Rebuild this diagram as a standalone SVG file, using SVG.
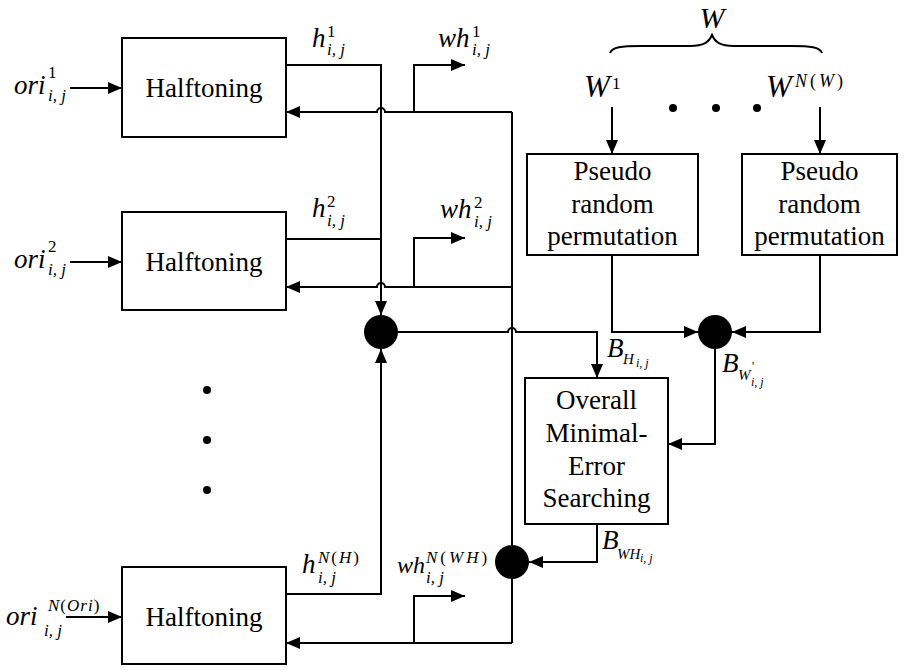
<svg xmlns="http://www.w3.org/2000/svg" width="907" height="670" viewBox="0 0 907 670" font-family="'Liberation Serif', 'DejaVu Serif', serif">
<defs>
<marker id="ah" markerWidth="14" markerHeight="12" refX="14" refY="6" orient="auto" markerUnits="userSpaceOnUse">
<path d="M0,0 L14,6 L0,12 z" fill="#000"/>
</marker>
<style>
text{font-family:'Liberation Serif','DejaVu Serif',serif}
.box{fill:#fff;stroke:#000;stroke-width:2}
.lbl{font-size:27px;fill:#000;text-anchor:middle}
.it{font-style:italic;fill:#000}
.m{font-size:27px}
.s{font-size:17px}
.ss{font-size:12px}
.up{font-style:normal}
.c{fill:none;stroke:#000;stroke-width:2}
.a{marker-end:url(#ah)}
.dot{fill:#000}
</style>
</defs>
<rect width="907" height="670" fill="#fff"/>

<g id="connectors">
<path class="c a" d="M70,88 H122"/>
<path class="c a" d="M70,262 H122"/>
<path class="c a" d="M66,617 H122"/>
<path class="c a" d="M286,65 H381 V315"/>
<path class="c" d="M286,239 H381"/>
<path class="c a" d="M286,594 H381 V349"/>
<path class="c a" d="M512,112 H385 a4,4 0 0 0 -8,0 H286"/>
<path class="c a" d="M414,112 V65 H465"/>
<path class="c" d="M512,112 V643"/>
<path class="c a" d="M512,287 H385 a4,4 0 0 0 -8,0 H286"/>
<path class="c a" d="M414,287 V238 H465"/>
<path class="c a" d="M512,643 H286"/>
<path class="c a" d="M414,643 V596 H465"/>
<path class="c a" d="M398,332 H508 a4,4 0 0 1 8,0 H597 V378"/>
<path class="c a" d="M612,107 V154"/>
<path class="c a" d="M820,107 V154"/>
<path class="c a" d="M612,255 V332 H698"/>
<path class="c a" d="M820,255 V332 H732"/>
<path class="c a" d="M715,349 V444 H668"/>
<path class="c a" d="M597,524 V562 H529"/>
</g>

<g id="halftoning1">
<rect class="box" x="122" y="38" width="164" height="99"/>
<text class="lbl" x="204" y="97">Halftoning</text>
</g>
<g id="halftoning2">
<rect class="box" x="122" y="212" width="164" height="98"/>
<text class="lbl" x="204" y="271">Halftoning</text>
</g>
<g id="halftoning3">
<rect class="box" x="122" y="567" width="164" height="97"/>
<text class="lbl" x="204" y="626">Halftoning</text>
</g>
<g id="prp1">
<rect class="box" x="527" y="154" width="171" height="101"/>
<text class="lbl" x="612.5" y="180">Pseudo</text>
<text class="lbl" x="612.5" y="213">random</text>
<text class="lbl" x="612.5" y="245">permutation</text>
</g>
<g id="prp2">
<rect class="box" x="742" y="154" width="155" height="101"/>
<text class="lbl" x="819.5" y="180">Pseudo</text>
<text class="lbl" x="819.5" y="213">random</text>
<text class="lbl" x="819.5" y="245">permutation</text>
</g>
<g id="overall">
<rect class="box" x="525" y="378" width="143" height="146"/>
<text class="lbl" x="596.5" y="409">Overall</text>
<text class="lbl" x="596.5" y="442">Minimal-</text>
<text class="lbl" x="596.5" y="475">Error</text>
<text class="lbl" x="596.5" y="507">Searching</text>
</g>
<g id="junction1"><circle cx="381" cy="332" r="17" fill="#000"/></g>
<g id="junction2"><circle cx="715" cy="332" r="17" fill="#000"/></g>
<g id="junction3"><circle cx="512" cy="562" r="17" fill="#000"/></g>

<g id="labels">
<text class="it"><tspan class="m" x="14" y="94">ori</tspan><tspan class="s up" x="48" y="78">1</tspan><tspan class="s" x="48" y="101">i, j</tspan></text>
<text class="it"><tspan class="m" x="14" y="268">ori</tspan><tspan class="s up" x="48" y="252">2</tspan><tspan class="s" x="48" y="275">i, j</tspan></text>
<text class="it"><tspan class="m" x="6" y="625">ori</tspan><tspan class="s" x="48" y="611" letter-spacing="1">N<tspan class="up">(</tspan>Ori<tspan class="up">)</tspan></tspan><tspan class="s" x="44" y="636">i, j</tspan></text>

<text class="it"><tspan class="m" x="312" y="47">h</tspan><tspan class="s up" x="327" y="37">1</tspan><tspan class="s" x="327" y="55">i, j</tspan></text>
<text class="it"><tspan class="m" x="438" y="47">wh</tspan><tspan class="s up" x="472" y="37">1</tspan><tspan class="s" x="472" y="55">i, j</tspan></text>
<text class="it"><tspan class="m" x="312" y="217">h</tspan><tspan class="s up" x="327" y="207">2</tspan><tspan class="s" x="327" y="226">i, j</tspan></text>
<text class="it"><tspan class="m" x="440" y="218">wh</tspan><tspan class="s up" x="474" y="208">2</tspan><tspan class="s" x="474" y="227">i, j</tspan></text>
<text class="it"><tspan class="m" x="302" y="573">h</tspan><tspan class="s" x="318" y="563" letter-spacing="2">N<tspan class="up">(</tspan>H<tspan class="up">)</tspan></tspan><tspan class="s" x="318" y="583">i, j</tspan></text>
<text class="it"><tspan class="m" style="font-size:24px" x="397" y="573">wh</tspan><tspan class="s" x="426" y="563" letter-spacing="3">N<tspan class="up">(</tspan>WH<tspan class="up">)</tspan></tspan><tspan class="s" x="426" y="583">i, j</tspan></text>

<text class="it"><tspan class="m" x="607" y="357">B</tspan><tspan style="font-size:15px" x="623" y="364">H</tspan><tspan class="ss" x="636" y="367">i, j</tspan></text>
<text class="it"><tspan class="m" x="722" y="372">B</tspan><tspan style="font-size:15px" x="738" y="380">W</tspan><tspan class="ss up" x="752" y="370">'</tspan><tspan class="ss" x="751" y="386">i, j</tspan></text>
<text class="it"><tspan class="m" x="602" y="549">B</tspan><tspan style="font-size:15px" x="617" y="559">WH</tspan><tspan class="ss" x="640" y="562">i, j</tspan></text>

<text class="it" style="font-size:30px" x="712" y="28" text-anchor="middle">W</text>
<text class="it"><tspan class="m" style="font-size:31px" x="584" y="97">W</tspan><tspan class="s up" x="612" y="89">1</tspan></text>
<text class="it"><tspan class="m" style="font-size:31px" x="766" y="97">W</tspan><tspan style="font-size:18px" x="795" y="87" letter-spacing="3">N<tspan class="up">(</tspan>W<tspan class="up">)</tspan></tspan></text>
</g>

<g id="brace">
<path class="c" d="M610,53 C612,47 622,46 640,46 L690,46 C704,46 709,42 712,35 C715,42 720,46 734,46 L792,46 C810,46 820,47 822,53"/>
</g>

<g id="ellipses">
<circle class="dot" cx="673" cy="108" r="4"/>
<circle class="dot" cx="716" cy="108" r="4"/>
<circle class="dot" cx="757" cy="108" r="4"/>
<circle class="dot" cx="207" cy="390" r="4"/>
<circle class="dot" cx="207" cy="440" r="4"/>
<circle class="dot" cx="207" cy="490" r="4"/>
</g>
</svg>
